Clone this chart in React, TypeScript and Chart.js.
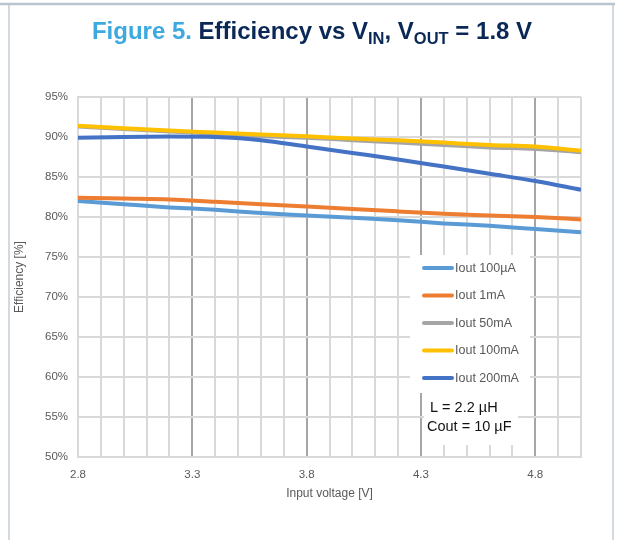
import React, { useEffect, useRef } from "react";
import { Chart, registerables } from "chart.js";

Chart.register(...registerables);

// ---- data ----
const vin = [2.8, 3.0, 3.2, 3.4, 3.6, 3.8, 4.0, 4.2, 4.4, 4.6, 4.8, 5.0];
const iout100uA = [82.0, 81.6, 81.2, 80.9, 80.5, 80.2, 79.9, 79.6, 79.2, 78.9, 78.5, 78.1];
const iout1mA = [82.4, 82.3, 82.2, 81.9, 81.6, 81.3, 81.0, 80.7, 80.4, 80.2, 80.0, 79.7];
const iout50mA = [91.3, 91.0, 90.7, 90.4, 90.1, 89.9, 89.6, 89.3, 89.0, 88.7, 88.5, 88.1];
const iout100mA = [91.4, 91.1, 90.8, 90.55, 90.3, 90.1, 89.8, 89.6, 89.3, 89.0, 88.8, 88.3];
const iout200mA = [89.9, 90.0, 90.05, 90.0, 89.6, 88.8, 88.0, 87.2, 86.3, 85.4, 84.5, 83.4];

const seriesLabels = ["Iout 100µA", "Iout 1mA", "Iout 50mA", "Iout 100mA", "Iout 200mA"];
const seriesValues = [iout100uA, iout1mA, iout50mA, iout100mA, iout200mA];
const seriesColors = ["#5B9BD5", "#ED7D31", "#A5A5A5", "#FFC000", "#4472C4"];
const seriesOrder = [4, 3, 2, 1, 0];

const xMin = 2.8;
const xMax = 5.0;
const xStep = 0.1;
const xLabelTicks = [2.8, 3.3, 3.8, 4.3, 4.8];
const yMin = 50;
const yMax = 95;
const yStep = 5;

const titleParts = [
  { text: "Figure 5. ", color: "#3CA9DF", sub: false },
  { text: "Efficiency vs V", color: "#0A2856", sub: false },
  { text: "IN", color: "#0A2856", sub: true },
  { text: ", V", color: "#0A2856", sub: false },
  { text: "OUT", color: "#0A2856", sub: true },
  { text: " = 1.8 V", color: "#0A2856", sub: false },
];
const xAxisTitle = "Input voltage [V]";
const yAxisTitle = "Efficiency [%]";
const noteLines = ["L = 2.2 µH", "Cout = 10 µF"];

const FONT = "'Liberation Sans', Arial, sans-serif";

const isMajor = (v: number) => xLabelTicks.some((t) => Math.abs(t - v) < 1e-6);

const decorPlugin = {
  id: "decor",
  beforeDraw(chart: any) {
    const ctx = chart.ctx;
    ctx.save();
    ctx.fillStyle = "#ffffff";
    ctx.fillRect(0, 0, chart.width, chart.height);
    // frame
    ctx.strokeStyle = "#D2DAE0";
    ctx.lineWidth = 2;
    ctx.beginPath();
    ctx.moveTo(9, 4);
    ctx.lineTo(9, chart.height);
    ctx.moveTo(613, 4);
    ctx.lineTo(613, chart.height);
    ctx.stroke();
    ctx.strokeStyle = "#B9C4CC";
    ctx.lineWidth = 2.5;
    ctx.beginPath();
    ctx.moveTo(0, 4);
    ctx.lineTo(615, 4);
    ctx.stroke();
    ctx.restore();
  },
  afterDraw(chart: any) {
    const ctx = chart.ctx;
    ctx.save();
    // title
    const mainFont = `bold 24px ${FONT}`;
    const subFont = `bold 16.5px ${FONT}`;
    let total = 0;
    titleParts.forEach((p) => {
      ctx.font = p.sub ? subFont : mainFont;
      total += ctx.measureText(p.text).width;
    });
    let x = 312 - total / 2;
    ctx.textBaseline = "alphabetic";
    ctx.textAlign = "left";
    titleParts.forEach((p) => {
      ctx.font = p.sub ? subFont : mainFont;
      ctx.fillStyle = p.color;
      ctx.fillText(p.text, x, p.sub ? 44 : 39);
      x += ctx.measureText(p.text).width;
    });

    // axis titles
    const area = chart.chartArea;
    ctx.fillStyle = "#595959";
    ctx.font = `12px ${FONT}`;
    ctx.textAlign = "center";
    ctx.textBaseline = "middle";
    ctx.fillText(xAxisTitle, (area.left + area.right) / 2, 494);
    ctx.save();
    ctx.translate(20, (area.top + area.bottom) / 2);
    ctx.rotate(-Math.PI / 2);
    ctx.fillText(yAxisTitle, 0, 0);
    ctx.restore();

    // legend
    ctx.fillStyle = "#ffffff";
    ctx.fillRect(410, 255, 120, 138);
    ctx.font = `12.5px ${FONT}`;
    ctx.textAlign = "left";
    ctx.textBaseline = "middle";
    chart.data.datasets.forEach((ds: any, i: number) => {
      const y = 268 + i * 27.5;
      ctx.strokeStyle = ds.borderColor;
      ctx.lineWidth = 4;
      ctx.lineCap = "round";
      ctx.beginPath();
      ctx.moveTo(424, y);
      ctx.lineTo(452, y);
      ctx.stroke();
      ctx.fillStyle = "#595959";
      ctx.fillText(ds.label, 455, y + 0.5);
    });

    // note box
    ctx.fillStyle = "#ffffff";
    ctx.fillRect(424, 393, 94, 52);
    ctx.fillStyle = "#111111";
    ctx.font = `14.5px ${FONT}`;
    ctx.fillText(noteLines[0], 430, 408);
    ctx.fillText(noteLines[1], 427, 427);
    ctx.restore();
  },
};

export default function App() {
  const ref = useRef<HTMLCanvasElement>(null);
  useEffect(() => {
    if (!ref.current) return;
    const chart = new Chart(ref.current, {
      type: "line",
      data: {
        datasets: seriesLabels.map((label, i) => ({
          label,
          data: vin.map((v, j) => ({ x: v, y: seriesValues[i][j] })),
          borderColor: seriesColors[i],
          backgroundColor: seriesColors[i],
          borderWidth: 4,
          pointRadius: 0,
          cubicInterpolationMode: "monotone" as const,
          order: seriesOrder[i],
        })),
      },
      options: {
        responsive: false,
        animation: false,
        events: [],
        layout: { padding: { top: 97, right: 41, bottom: 0, left: 0 } },
        plugins: {
          legend: { display: false },
          title: { display: false },
          tooltip: { enabled: false },
        },
        scales: {
          x: {
            type: "linear",
            min: xMin,
            max: xMax,
            afterFit: (s: any) => {
              s.height = 83;
            },
            ticks: {
              stepSize: xStep,
              autoSkip: false,
              maxRotation: 0,
              padding: 11,
              color: "#595959",
              font: { family: FONT, size: 11.5 },
              callback: (v: any) => (isMajor(Number(v)) ? Number(v).toFixed(1) : ""),
            },
            grid: {
              drawTicks: false,
              color: (c: any) => (c.tick && isMajor(c.tick.value) && c.tick.value > xMin + 0.01 ? "#A6A6A6" : "#D9D9D9"),
              lineWidth: 2,
            },
            border: { display: true, color: "#D9D9D9", width: 2 },
          },
          y: {
            type: "linear",
            min: yMin,
            max: yMax,
            afterFit: (s: any) => {
              s.width = 78;
            },
            ticks: {
              stepSize: yStep,
              padding: 10,
              color: "#595959",
              font: { family: FONT, size: 11.5 },
              callback: (v: any) => `${v}%`,
            },
            grid: { drawTicks: false, color: "#D9D9D9", lineWidth: 2 },
            border: { display: true, color: "#D9D9D9", width: 2 },
          },
        },
      },
      plugins: [decorPlugin],
    });
    return () => chart.destroy();
  }, []);
  return (
    <div style={{ position: "absolute", left: 0, top: 0, width: 622, height: 540 }}>
      <canvas ref={ref} width={622} height={540} style={{ display: "block" }} />
    </div>
  );
}
